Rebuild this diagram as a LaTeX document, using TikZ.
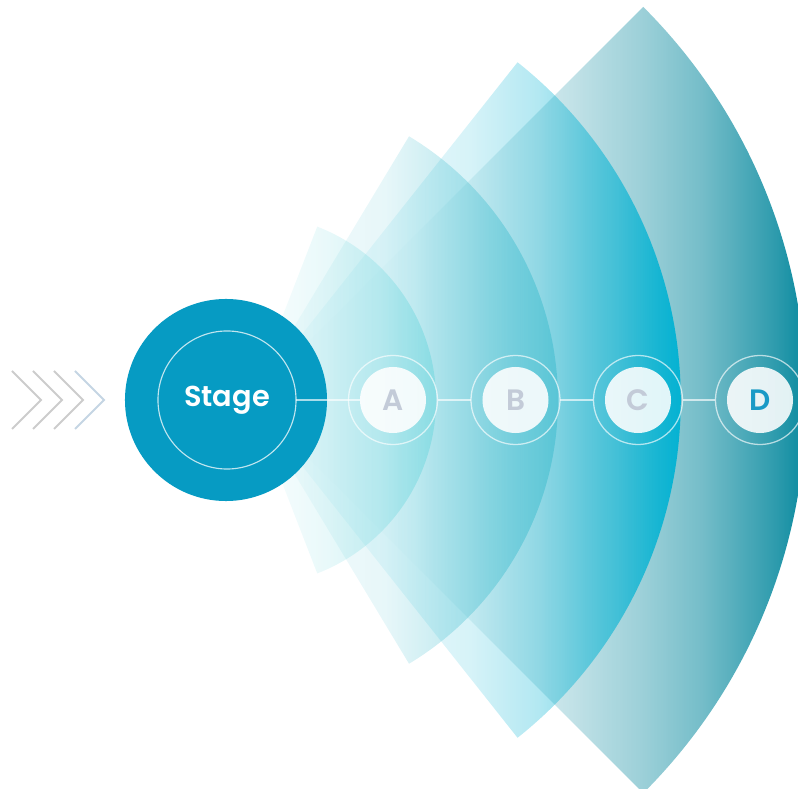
\documentclass[tikz,border=0pt]{standalone}
\usepackage{fontspec}
\setmainfont{Poppins}
\newfontfamily\labelfont{Poppins SemiBold}
\usetikzlibrary{fadings}

\definecolor{stageblue}{HTML}{069BC3}
\definecolor{wedgeD}{HTML}{0A8A9F}
\definecolor{wedgeC}{HTML}{00B2D3}
\definecolor{wedgeB}{HTML}{45BFD0}
\definecolor{wedgeA}{HTML}{6ED7DE}
\definecolor{chevrongray}{HTML}{CCCCCC}
\definecolor{chevronblue}{HTML}{C5D5E3}
\definecolor{lettergray}{HTML}{C3CBD8}
\definecolor{letterblue}{HTML}{1A9AC6}

% Fadings for the wedges (black = clear, white = solid)
\pgfdeclarehorizontalshading{fadeshadeD}{100bp}{color(0bp)=(black); color(25bp)=(black);
  color(40bp)=(white!2!black); color(53bp)=(white!23!black); color(60.5bp)=(white!41!black);
  color(65.5bp)=(white!56!black); color(71.75bp)=(white!83!black); color(75bp)=(white);
  color(100bp)=(white)}
\pgfdeclarefading{fadeD}{\pgfuseshading{fadeshadeD}}
\pgfdeclarehorizontalshading{fadeshadeC}{100bp}{color(0bp)=(white!2!black); color(25bp)=(white!2!black);
  color(40bp)=(white!8!black); color(50.5bp)=(white!16!black); color(58.5bp)=(white!30!black);
  color(67.5bp)=(white!60!black); color(75bp)=(white!97!black); color(100bp)=(white!97!black)}
\pgfdeclarefading{fadeC}{\pgfuseshading{fadeshadeC}}
\pgfdeclarehorizontalshading{fadeshadeB}{100bp}{color(0bp)=(black); color(25bp)=(black);
  color(32bp)=(white!6!black); color(40bp)=(white!10!black); color(47bp)=(white!13!black);
  color(60bp)=(white!35!black); color(75bp)=(white!62!black); color(100bp)=(white!62!black)}
\pgfdeclarefading{fadeB}{\pgfuseshading{fadeshadeB}}
\pgfdeclarehorizontalshading{fadeshadeA}{100bp}{color(0bp)=(white!3!black); color(25bp)=(white!3!black);
  color(45bp)=(white!15!black); color(60bp)=(white!30!black);
  color(75bp)=(white!55!black); color(100bp)=(white!55!black)}
\pgfdeclarefading{fadeA}{\pgfuseshading{fadeshadeA}}

\begin{document}
\begin{tikzpicture}[x=0.025cm,y=0.025cm]
      % Define styles for nodes
      \tikzstyle{chevron} = [line width=1.3pt, line join=miter]
      \tikzstyle{stage} = [circle, fill=stageblue, minimum size=5.05cm,
      inner sep=0pt, outer sep=0pt]
      \tikzstyle{stagering} = [circle, draw=white, draw opacity=.75,
      line width=.8pt, minimum size=3.45cm, inner sep=0pt, outer sep=0pt,
      text=white, font=\labelfont\fontsize{20.5}{24}\selectfont]
      \tikzstyle{ring} = [circle, draw=white, draw opacity=.65, line width=.9pt,
      minimum size=2.225cm, inner sep=0pt, outer sep=0pt]
      \tikzstyle{disc} = [circle, fill=white, fill opacity=.88, text opacity=1,
      minimum size=1.65cm, inner sep=0pt, outer sep=0pt,
      font=\labelfont\fontsize{21}{25}\selectfont]
      \tikzstyle{link} = [draw=white, draw opacity=.65, line width=.9pt]

      \useasboundingbox (0,-389) rectangle (798,400);

      % Wedges, all from one tip
      \coordinate (tip) at (250,0);
      \fill[wedgeD, path fading=fadeD, fit fading=false,
      fading transform={shift={(528,0)}, xscale=7.88, yscale=6}]
      (tip) -- ++(45:556) arc[start angle=45, end angle=-45, radius=556] -- cycle;
      \fill[wedgeC, path fading=fadeC, fit fading=false,
      fading transform={shift={(465.5,0)}, xscale=6.109, yscale=6}]
      (tip) -- ++(51.6:431) arc[start angle=51.6, end angle=-51.6, radius=431] -- cycle;
      \fill[wedgeB, path fading=fadeB, fit fading=false,
      fading transform={shift={(404,0)}, xscale=4.365, yscale=6}]
      (tip) -- ++(58.9:308) arc[start angle=58.9, end angle=-58.9, radius=308] -- cycle;
      \fill[wedgeA, path fading=fadeA, fit fading=false,
      fading transform={shift={(343,0)}, xscale=2.636, yscale=6}]
      (tip) -- ++(68.8:186) arc[start angle=68.8, end angle=-68.8, radius=186] -- cycle;

      % Chevrons at left
      \draw[chevron, chevrongray] (12,29) -- (41,0) -- (12,-29);
      \draw[chevron, chevrongray] (33,29) -- (62,0) -- (33,-29);
      \draw[chevron, chevrongray] (54,29) -- (83,0) -- (54,-29);
      \draw[chevron, chevronblue] (75,29) -- (104,0) -- (75,-29);

      % Stage circle
      \node[stage] (stage) at (226,0) {};
      \node[stagering] (stagering) at (227,0) {Stage};

      % Steps
      \node[ring] (ringA) at (393,0) {};
      \node[ring] (ringB) at (515.5,0) {};
      \node[ring] (ringC) at (638,0) {};
      \node[ring] (ringD) at (760,0) {};
      \node[disc, text=lettergray] (discA) at (393,0) {A};
      \node[disc, text=lettergray] (discB) at (515.5,0) {B};
      \node[disc, text=lettergray] (discC) at (638,0) {C};
      \node[disc, text=letterblue] (discD) at (760,0) {D};

      % Connections
      \draw[link] (stagering.east) -- (discA.west);
      \draw[link] (ringA.east) -- (ringB.west);
      \draw[link] (ringB.east) -- (ringC.west);
      \draw[link] (ringC.east) -- (ringD.west);

    \end{tikzpicture}
\end{document}
